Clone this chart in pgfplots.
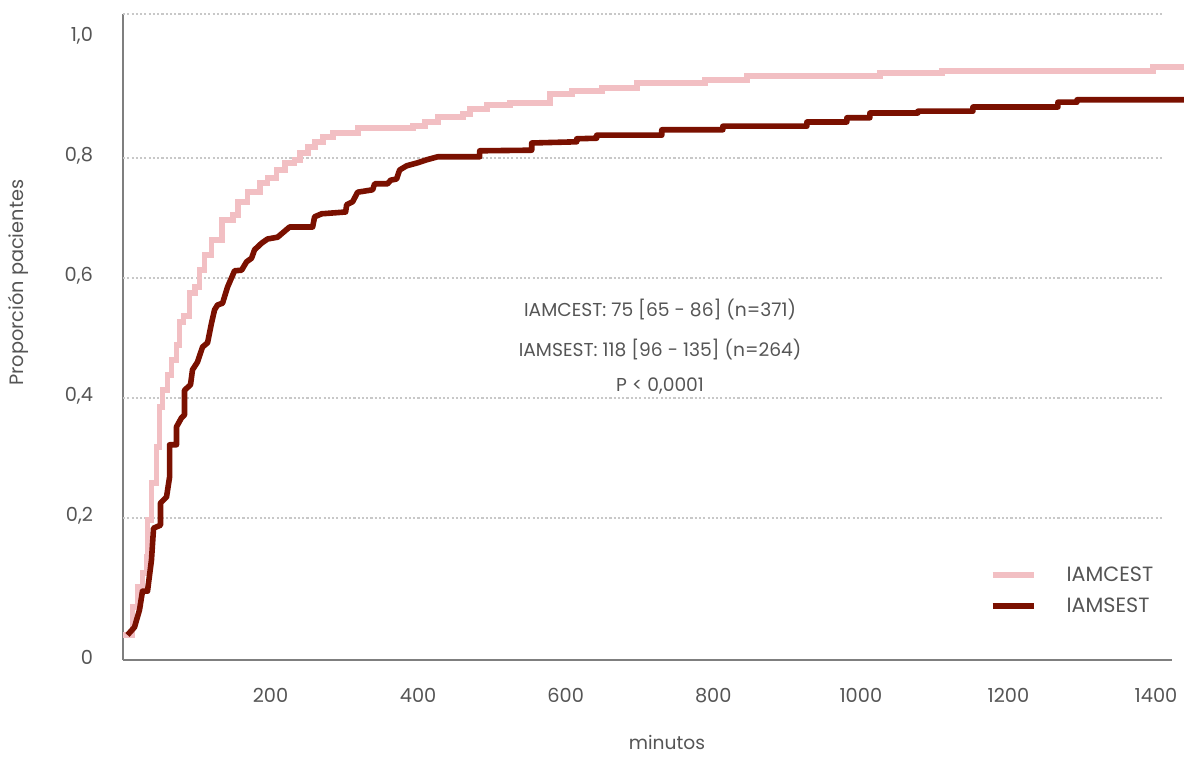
\documentclass[border=0pt]{standalone}
\usepackage{fontspec}
\setmainfont{Poppins}
\usepackage{pgfplots}
\pgfplotsset{compat=1.18}
\definecolor{pinkc}{HTML}{F2BFC3}
\definecolor{darkc}{HTML}{7A1000}
\definecolor{txt}{HTML}{555555}
\definecolor{axc}{HTML}{7F7F7F}
\definecolor{gridc}{HTML}{C8C8C8}
\begin{document}
\begin{tikzpicture}
\useasboundingbox (0,0) rectangle (888pt,568.5pt);
\begin{axis}[
  at={(92.25pt,73.5pt)}, anchor=south west,
  scale only axis, width=786.75pt, height=484.5pt,
  xmin=0, xmax=1421.7, ymin=-0.0367, ymax=1.04,
  axis x line=bottom, axis y line=left,
  axis line style={-, draw=axc, line width=1pt},
  xtick={200,400,600,800,1000,1200,1400},
  xticklabels={200,400,600,800,1000,1200,1400},
  ytick={-0.0367,0.2,0.4,0.6,0.8,1.0},
  yticklabels={0,{0,2},{0,4},{0,6},{0,8},{1,0}},
  major tick length=0pt,
  /pgf/number format/assume math mode=true,
  tick label style={font=\fontsize{14.5}{16}\selectfont, text=txt},
  xticklabel style={yshift=-18pt},
  yticklabel style={xshift=-19pt, yshift=2pt},
  clip=false,
  legend style={draw=none, fill=none, at={(0.826,0.149)}, anchor=north west,
    inner sep=0pt, row sep=7pt, column sep=20.5pt,
    font=\fontsize{15.5}{17}\selectfont, text=txt},
  legend cell align=left,
  legend image code/.code={\draw[#1] (0pt,0pt) -- (30.75pt,0pt);},
]
\pgfplotsinvokeforeach{0.2,0.4,0.6,0.8,1.04}{
  \draw[gridc, line width=1pt, dash pattern=on 1.6pt off 1.6pt] (axis cs:0,#1) -- (axis cs:1408,#1);
}
\addplot[const plot, color=pinkc, line width=4.4pt] coordinates {
(0,0.005) (12.9,0.052) (19.7,0.085) (26.4,0.108) (31.9,0.135) (33.2,0.197)
(38.6,0.258) (45.4,0.318) (49.5,0.385) (53.6,0.413) (60.3,0.438) (65.8,0.463)
(72.5,0.488) (76.6,0.527) (82.0,0.537) (90.2,0.575) (97.0,0.585) (103.7,0.613)
(110.5,0.638) (120.0,0.663) (133.6,0.697) (148.5,0.705) (155.3,0.727) (168.8,0.743)
(185.1,0.758) (195.9,0.767) (208.1,0.780) (219.0,0.792) (232.5,0.797) (239.3,0.808)
(250.2,0.818) (259.7,0.827) (270.5,0.835) (284.1,0.842) (318.0,0.850) (392.5,0.853)
(408.8,0.860) (426.4,0.868) (460.3,0.873) (469.8,0.882) (492.9,0.888) (524.1,0.892)
(578.3,0.907) (608.1,0.912) (648.8,0.917) (696.3,0.925) (788.5,0.930) (845.4,0.937)
(1025.8,0.942) (1109.8,0.945) (1396.0,0.952) (1438,0.952)
};
\addlegendentry{IAMCEST}
\addplot[sharp plot, color=darkc, line width=4.2pt, line join=round] coordinates {
(6.1,0.005) (15.6,0.018) (22.4,0.047) (26.4,0.078) (33.2,0.078) (38.6,0.130)
(41.4,0.183) (50.8,0.188) (50.8,0.225) (59.0,0.235) (63.1,0.268) (63.1,0.322)
(72.5,0.322) (72.5,0.352) (79.3,0.367) (83.4,0.372) (83.4,0.413) (91.5,0.422)
(94.2,0.447) (101.0,0.460) (107.8,0.485) (114.6,0.492) (120.0,0.525) (124.1,0.547)
(128.1,0.555) (134.9,0.558) (141.7,0.585) (151.2,0.612) (160.7,0.613) (167.5,0.627)
(174.2,0.633) (178.3,0.647) (187.8,0.658) (195.9,0.665) (209.5,0.668) (225.8,0.685)
(257.0,0.685) (259.7,0.702) (269.2,0.707) (301.7,0.710) (303.1,0.722) (311.2,0.727)
(318.0,0.743) (338.3,0.747) (341.0,0.757) (358.6,0.757) (362.7,0.763) (370.8,0.765)
(374.9,0.780) (384.4,0.787) (399.3,0.792) (411.5,0.797) (426.4,0.802) (483.4,0.802)
(483.4,0.812) (553.9,0.813) (553.9,0.825) (614.9,0.827) (614.9,0.832) (642.0,0.833)
(642.0,0.838) (730.2,0.838) (730.2,0.847) (812.9,0.847) (812.9,0.853) (926.8,0.853)
(926.8,0.860) (981.0,0.860) (981.0,0.867) (1012.2,0.867) (1012.2,0.875) (1077.3,0.875)
(1077.3,0.878) (1151.9,0.878) (1151.9,0.885) (1267.1,0.885) (1267.1,0.893) (1292.9,0.893)
(1292.9,0.897) (1438,0.897)
};
\addlegendentry{IAMSEST}
\node[font=\fontsize{14}{16}\selectfont, text=txt] at (rel axis cs:0.512,0.542) {IAMCEST: 75 [65 - 86] (n=371)};
\node[font=\fontsize{14}{16}\selectfont, text=txt] at (rel axis cs:0.512,0.481) {IAMSEST: 118 [96 - 135] (n=264)};
\node[font=\fontsize{14}{16}\selectfont, text=txt] at (rel axis cs:0.512,0.424) {P < 0,0001};
\node[font=\fontsize{14.5}{16}\selectfont, text=txt, rotate=90, inner sep=0pt] at (rel axis cs:-0.1001,0.584) {Proporción pacientes};
\node[font=\fontsize{14}{16}\selectfont, text=txt, inner sep=0pt] at (rel axis cs:0.5186,-0.128) {minutos};
\end{axis}
\end{tikzpicture}
\end{document}
